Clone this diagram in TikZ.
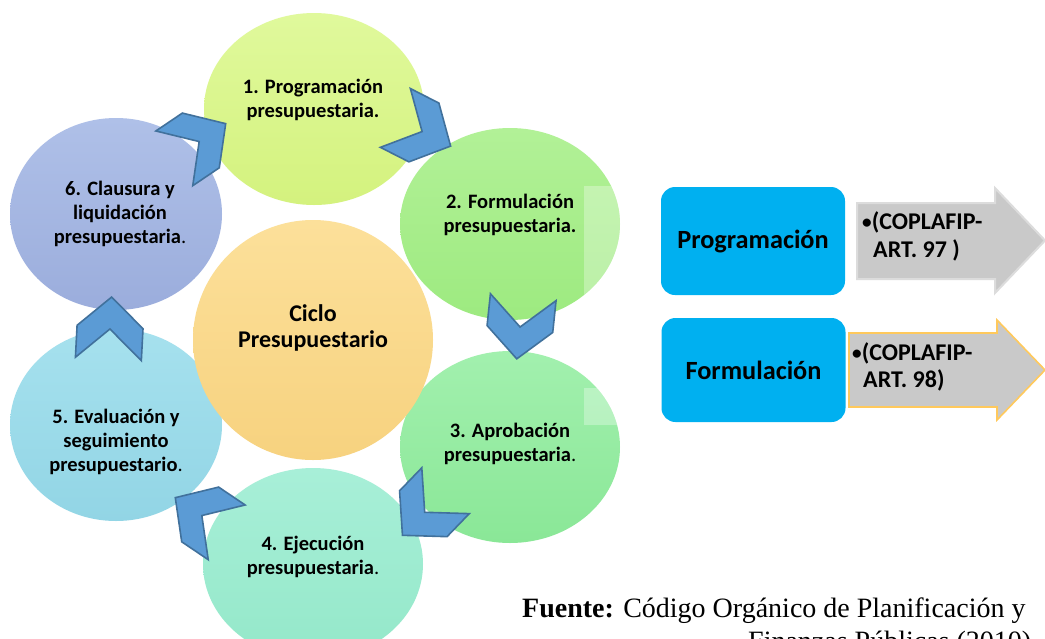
\documentclass[tikz,border=0pt]{standalone}
\usepackage{fontspec}
\setmainfont{Carlito}
\newfontfamily\fuentefont{Liberation Serif}
\usetikzlibrary{shapes.geometric}

\definecolor{chevfill}{HTML}{5B9BD5}
\definecolor{chevline}{HTML}{41719C}
\definecolor{eAt}{HTML}{E0F99C}\definecolor{eAb}{HTML}{D4F27E}
\definecolor{eBt}{HTML}{B2F197}\definecolor{eBb}{HTML}{9DEA80}
\definecolor{eCt}{HTML}{A2F0AE}\definecolor{eCb}{HTML}{8AE797}
\definecolor{eDt}{HTML}{A8EFD8}\definecolor{eDb}{HTML}{94E8C9}
\definecolor{eEt}{HTML}{A6E1EE}\definecolor{eEb}{HTML}{92D5E5}
\definecolor{eFt}{HTML}{AFC0E8}\definecolor{eFb}{HTML}{9BADDC}
\definecolor{eMt}{HTML}{FCE09A}\definecolor{eMb}{HTML}{F7D27F}
\definecolor{cyanbox}{HTML}{00B0F0}
\definecolor{grayfill}{HTML}{C9C9C9}
\definecolor{grayline}{HTML}{DCDCDC}
\definecolor{goldline}{HTML}{FFC95C}

\newcommand{\smallbul}{\raisebox{1pt}{\scalebox{0.8}{•}}}

\tikzset{
  ell/.style={ellipse, minimum width=220pt, minimum height=192pt, inner sep=0pt, draw=none},
  etext/.style={font=\bfseries\fontsize{20.5}{24}\selectfont, align=center, inner sep=0pt},
  ctext/.style={font=\bfseries\fontsize{24}{26.5}\selectfont, align=center, inner sep=0pt},
  chevstyle/.style={fill=chevfill, draw=chevline, line width=1.6pt, line join=miter},
  chev/.pic={\path[chevstyle] (-31,-33) -- (1,-33) -- (31,0) -- (1,33) -- (-31,33) -- (-1,0) -- cycle;},
  bluebox/.style={fill=cyanbox, draw=none, rounded corners=14pt, minimum width=184pt,
    font=\bfseries\fontsize{26.3}{28}\selectfont, inner sep=0pt},
  grayarrow/.style={fill=grayfill, draw=grayline, line width=2pt},
  goldarrow/.style={fill=grayfill, draw=goldline, line width=1.6pt},
  arrtext/.style={font=\bfseries\fontsize{24}{27}\selectfont, inner sep=0pt, anchor=base west},
  srctext/.style={font=\fuentefont\fontsize{28}{32}\selectfont, inner sep=0pt, anchor=base west}
}

\begin{document}
\begin{tikzpicture}[x=1pt,y=-1pt]
\useasboundingbox (0,0) rectangle (1045,638);
\clip (0,0) rectangle (1045,638);
\fill[white] (0,0) rectangle (1045,638);

% cycle ellipses
\node[ell, top color=eAt, bottom color=eAb] (e1) at (314,109) {};
\node[ell, top color=eBt, bottom color=eBb] (e2) at (510,224) {};
\node[ell, top color=eCt, bottom color=eCb] (e3) at (510,447) {};
\node[ell, top color=eDt, bottom color=eDb] (e4) at (313,564) {};
\node[ell, minimum width=212pt, top color=eEt, bottom color=eEb] (e5) at (116,425) {};
\node[ell, minimum width=212pt, top color=eFt, bottom color=eFb] (e6) at (116,214) {};
\node[ell, minimum width=240pt, minimum height=240pt, top color=eMt, bottom color=eMb] (ec) at (313,340) {};

% lighter patches
\begin{scope}
  \clip (510,224) ellipse [x radius=110pt, y radius=96pt];
  \fill[white, opacity=0.3] (584,186) rectangle (640,300);
\end{scope}
\begin{scope}
  \clip (510,447) ellipse [x radius=110pt, y radius=96pt];
  \fill[white, opacity=0.3] (584,388) rectangle (640,425);
\end{scope}

% chevrons
\pic[rotate=-27] at (423,132) {chev};
\pic[rotate=-96] at (520,328) {chev};
\pic[rotate=-134] at (424,513) {chev};
\pic[rotate=146] at (201,515) {chev};
\pic[rotate=87] at (110,328) {chev};
\pic[rotate=34] at (200,141) {chev};

% texts
\node[etext] (t1) at (313,100) {1. Programación\\presupuestaria.};
\node[etext] (t2) at (510,215) {2. Formulación\\presupuestaria.};
\node[etext] (t3) at (510,444) {3. Aprobación\\presupuestaria{\mdseries .}};
\node[etext] (t4) at (313,557) {4. Ejecución\\presupuestaria{\mdseries .}};
\node[etext] (t5) at (116,442) {5. Evaluación y\\seguimiento\\presupuestario{\mdseries .}};
\node[etext] (t6) at (120,214) {6. Clausura y\\liquidación\\presupuestaria{\mdseries .}};
\node[ctext] (tc) at (313,328) {Ciclo\\Presupuestario};

% right side
\node[bluebox, minimum height=108pt] (pb) at (753,241) {Programación};
\node[bluebox, minimum height=104pt] (fb) at (753.5,370) {Formulación};

\path[grayarrow] (857,203) -- (995,203) -- (995,188) -- (1045,240.5) -- (995,293) -- (995,279) -- (857,279) -- cycle;
\path[goldarrow] (849,333) -- (997,333) -- (997,320) -- (1045,370) -- (997,420) -- (997,407) -- (849,407) -- cycle;

\node[arrtext] (a1a) at (862,229) {\smallbul(COPLAFIP-};
\node[arrtext] (a1b) at (873,257) {ART. 97 )};
\node[arrtext] (a2a) at (852,360) {\smallbul(COPLAFIP-};
\node[arrtext] (a2b) at (863,387) {ART. 98)};

% source
\node[srctext] (s1) at (522,617) {\textbf{Fuente:} Código Orgánico de Planificación y};
\node[srctext] (s2) at (748,650) {Finanzas Públicas (2010)};
\end{tikzpicture}
\end{document}
